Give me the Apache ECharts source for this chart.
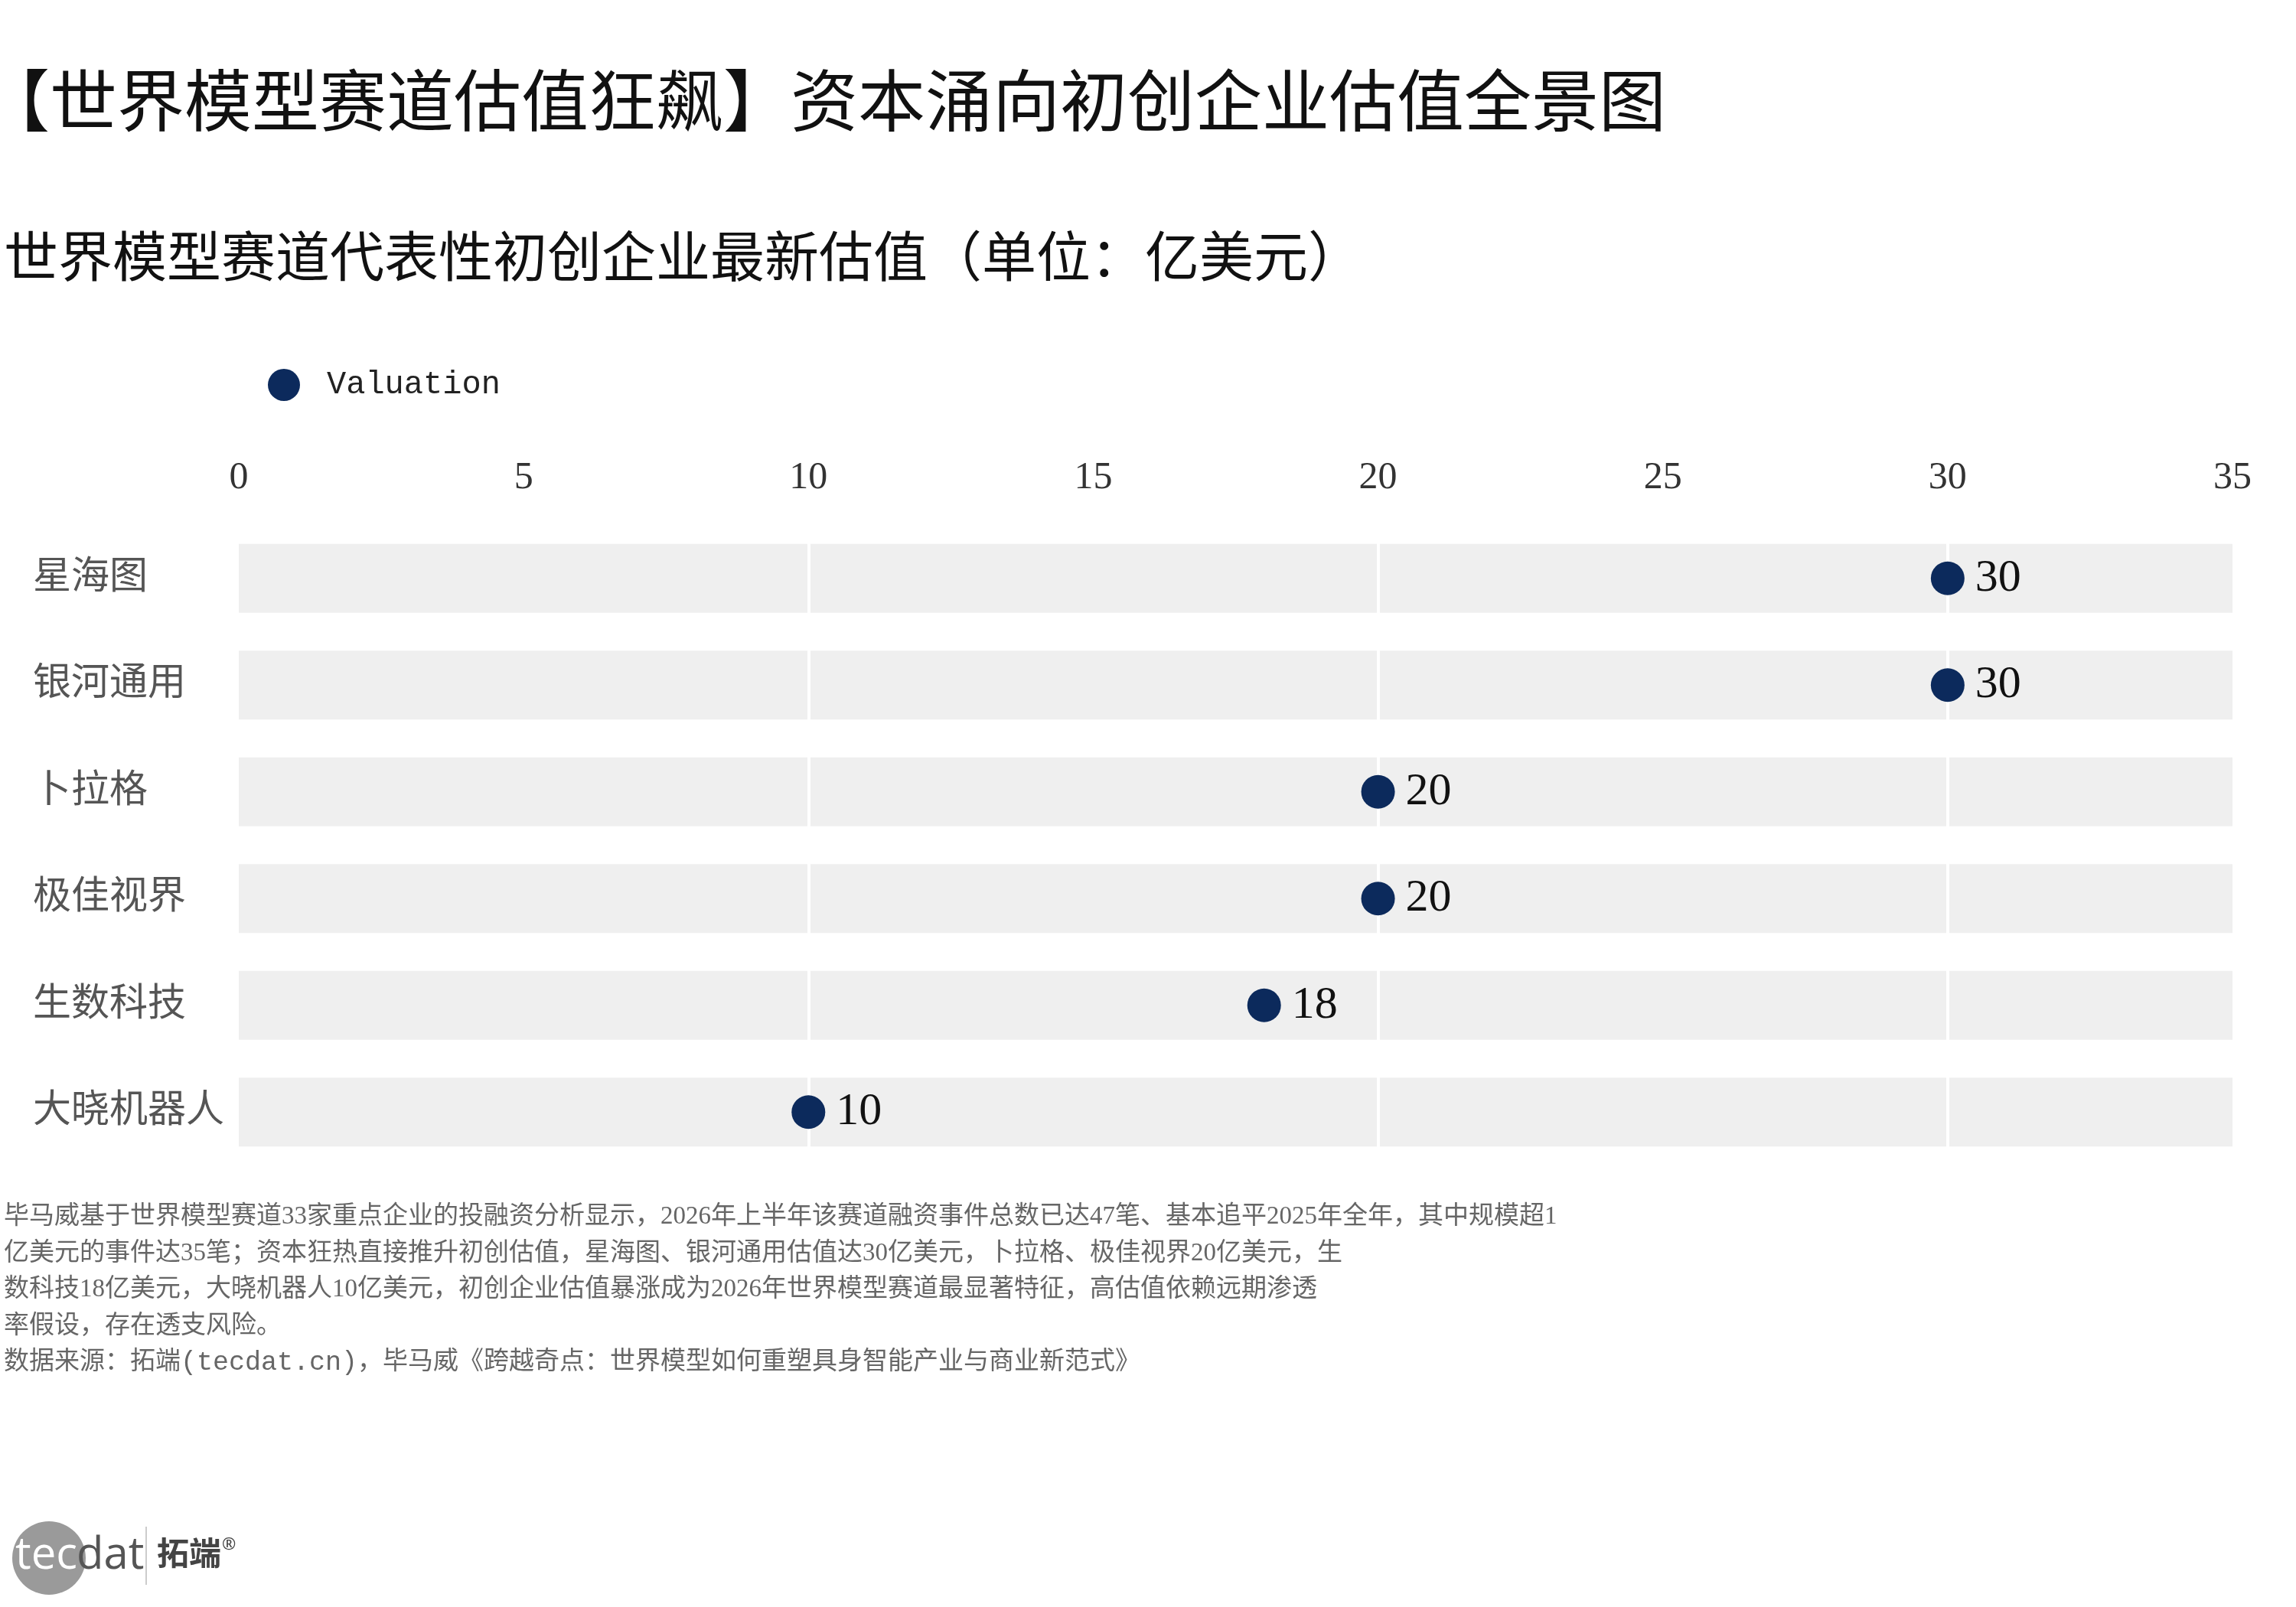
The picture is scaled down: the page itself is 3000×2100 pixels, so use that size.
<!DOCTYPE html>
<html>
<head>
<meta charset="utf-8">
<title>世界模型赛道估值</title>
<script src="https://cdn.jsdelivr.net/npm/echarts@6/dist/echarts.min.js"></script>
<style>
  html, body { margin: 0; padding: 0; background: #fff; }
  #main { width: 3000px; height: 2100px; }
</style>
</head>
<body>
<div id="main"></div>
<script>
// 数据
var companies = ['星海图', '银河通用', '卜拉格', '极佳视界', '生数科技', '大晓机器人'];
var valuations = [30, 30, 20, 20, 18, 10];
var axisMin = 0;
var axisMax = 35;
var tickStep = 5;
var gridStep = 10;

var titleText = '【世界模型赛道估值狂飙】资本涌向初创企业估值全景图';
var subText = '世界模型赛道代表性初创企业最新估值（单位：亿美元）';
var noteLines = [
    '毕马威基于世界模型赛道33家重点企业的投融资分析显示，2026年上半年该赛道融资事件总数已达47笔、基本追平2025年全年，其中规模超1',
    '亿美元的事件达35笔；资本狂热直接推升初创估值，星海图、银河通用估值达30亿美元，卜拉格、极佳视界20亿美元，生',
    '数科技18亿美元，大晓机器人10亿美元，初创企业估值暴涨成为2026年世界模型赛道最显著特征，高估值依赖远期渗透',
    '率假设，存在透支风险。',
    '数据来源：拓端{m|(tecdat.cn)}，毕马威《跨越奇点：世界模型如何重塑具身智能产业与商业新范式》'
];

var FONT = "'Liberation Serif', 'Noto Sans CJK SC', serif";
var MONO = "'Liberation Mono', monospace";
var navy = '#0c2a5c';

var chart = echarts.init(document.getElementById('main'));

// 散点数据
var points = [];
for (var i = 0; i < companies.length; i++) {
    points.push([valuations[i], companies[i]]);
}

var option = {
    backgroundColor: '#ffffff',
    title: [
        {
            text: titleText,
            left: -28,
            top: 92,
            textStyle: { fontFamily: FONT, fontSize: 88, fontWeight: 'normal', color: '#111' }
        },
        {
            text: subText,
            left: 0,
            top: 302,
            textStyle: { fontFamily: FONT, fontSize: 71, fontWeight: 'normal', color: '#111' }
        },
        {
            text: noteLines.join('\n'),
            left: 0,
            top: 1562,
            textStyle: {
                fontFamily: FONT, fontSize: 33, fontWeight: 'normal', color: '#666', lineHeight: 47.5,
                rich: {
                    m: { fontFamily: MONO, fontSize: 35, color: '#666', lineHeight: 47.5 }
                }
            }
        }
    ],
    legend: {
        data: ['Valuation'],
        left: 345,
        top: 477,
        itemWidth: 42,
        itemHeight: 42,
        icon: 'circle',
        textStyle: {
            fontFamily: MONO,
            fontSize: 42,
            color: '#222',
            padding: [0, 0, 0, 30]
        }
    },
    grid: {
        left: 312,
        right: 83,
        top: 686,
        bottom: 577,
        containLabel: false
    },
    xAxis: [
        {
            type: 'value',
            position: 'top',
            min: axisMin,
            max: axisMax,
            interval: tickStep,
            axisLine: { show: false },
            axisTick: { show: false },
            splitLine: { show: false },
            axisLabel: { fontFamily: FONT, fontSize: 50, color: '#333', margin: 36 }
        },
        {
            type: 'value',
            position: 'top',
            min: axisMin,
            max: axisMax,
            interval: gridStep,
            z: 3,
            axisLine: { show: false },
            axisTick: { show: false },
            axisLabel: { show: false },
            splitLine: {
                show: true,
                showMinLine: false,
                showMaxLine: false,
                lineStyle: { color: '#ffffff', width: 4 }
            }
        }
    ],
    yAxis: {
        type: 'category',
        data: companies,
        inverse: true,
        axisLine: { show: false },
        axisTick: { show: false },
        splitLine: { show: false },
        axisLabel: {
            fontFamily: FONT,
            fontSize: 50,
            color: '#555',
            align: 'left',
            margin: 269
        }
    },
    series: [
        {
            // 灰色底条
            type: 'bar',
            xAxisIndex: 0,
            data: valuations,
            barWidth: 90,
            silent: true,
            z: 1,
            itemStyle: { color: 'rgba(0,0,0,0)' },
            showBackground: true,
            backgroundStyle: { color: '#efefef' }
        },
        {
            name: 'Valuation',
            type: 'scatter',
            xAxisIndex: 0,
            data: points,
            symbol: 'circle',
            symbolSize: 44,
            z: 5,
            itemStyle: { color: navy, opacity: 1 },
            label: {
                show: true,
                position: 'right',
                distance: 14,
                formatter: function (p) { return p.value[0]; },
                fontFamily: FONT,
                fontSize: 60,
                color: '#111'
            }
        }
    ],
    graphic: [
        // 拓端 logo
        { type: 'circle', shape: { cx: 64, cy: 2036, r: 48 }, style: { fill: '#9a9a9a' } },
        { type: 'text', left: 20, top: 2004, style: { text: 'tec', fill: '#ffffff', font: "500 58px 'Open Sans', 'Noto Sans', sans-serif" } },
        { type: 'text', left: 100, top: 2004, style: { text: 'dat', fill: '#555555', font: "500 58px 'Open Sans', 'Noto Sans', sans-serif" } },
        { type: 'rect', shape: { x: 190, y: 1995, width: 2, height: 76 }, style: { fill: '#cccccc' } },
        { type: 'text', left: 205, top: 2008, style: { text: '拓端', fill: '#444444', font: "bold 42px 'Noto Sans CJK SC', sans-serif" } },
        { type: 'text', left: 290, top: 2008, style: { text: '®', fill: '#444444', font: "22px 'Noto Sans', sans-serif" } }
    ]
};

chart.setOption(option);
</script>
</body>
</html>
